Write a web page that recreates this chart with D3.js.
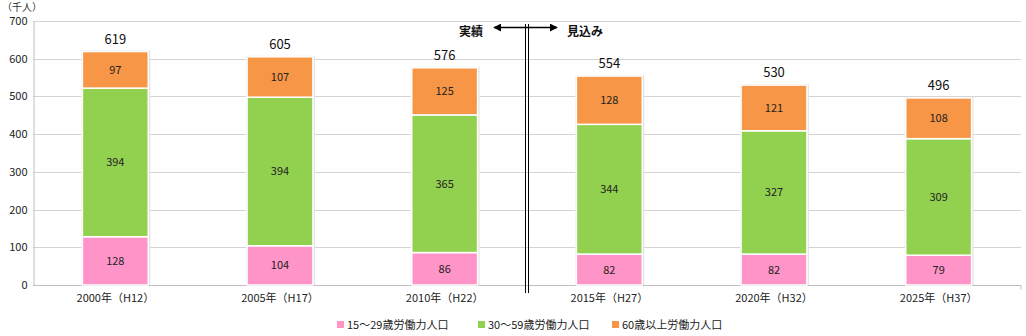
<!DOCTYPE html>
<html><head><meta charset="utf-8">
<script src="https://cdn.jsdelivr.net/npm/d3@7"></script>
<style>
body{margin:0;background:#fff;}
text{font-family:"Noto Sans CJK JP","Noto Sans",sans-serif;}
</style></head>
<body><svg id="c" width="1026" height="336"></svg>
<script>
const categories = ["2000年（H12）","2005年（H17）","2010年（H22）","2015年（H27）","2020年（H32）","2025年（H37）"];
const young = [128,104,86,82,82,79];
const middle = [394,394,365,344,327,309];
const senior = [97,107,125,128,121,108];
const totals = [619,605,576,554,530,496];
const seriesNames = ["15～29歳労働力人口","30～59歳労働力人口","60歳以上労働力人口"];
const colors = ["#ff94c9","#92d050","#f79646"];
const yTicks = [0,100,200,300,400,500,600,700];

const svg = d3.select("#c");
const L=33,R=1021,T=21,B=285;
const x = d3.scaleBand().domain(categories).range([L,R]).paddingInner(0.6).paddingOuter(0.3);
const y = d3.scaleLinear().domain([0,700]).range([B,T]);

// grid
svg.append("g").selectAll("line").data(yTicks.filter(d=>d>0)).join("line")
  .attr("x1",L).attr("x2",R).attr("y1",d=>Math.round(y(d))+0.5).attr("y2",d=>Math.round(y(d))+0.5)
  .attr("stroke","#d4d4d4").attr("stroke-width",1);

// y axis
const ya = svg.append("g").attr("transform",`translate(${L+0.5},0)`)
  .call(d3.axisLeft(y).tickValues(yTicks).tickSize(0).tickPadding(6));
ya.select(".domain").attr("stroke","#bfbfbf");
ya.selectAll("text").attr("font-size",11).attr("fill","#222").attr("font-family","Roboto,'Noto Sans',sans-serif");

// x axis
const xa = svg.append("g").attr("transform",`translate(0,${B+0.5})`)
  .call(d3.axisBottom(x).tickSize(0).tickPadding(9));
xa.select(".domain").attr("stroke","#bfbfbf").attr("d",`M${L},0H${R}V4`);
xa.selectAll("text").attr("font-size",11).attr("fill","#222");

svg.append("text").attr("x",2).attr("y",11).attr("font-size",10).attr("fill","#333").text("（千人）");

// stacks
const data = categories.map((c,i)=>({cat:c,young:young[i],middle:middle[i],senior:senior[i]}));
const keys=["young","middle","senior"];
const stack = d3.stack().keys(keys)(data);
const bw = x.bandwidth();
// shadow
svg.append("g").selectAll("rect").data(data).join("rect")
  .attr("x",d=>x(d.cat)-1).attr("width",bw+3)
  .attr("y",(d,i)=>y(totals[i])-1).attr("height",(d,i)=>B-y(totals[i])+1)
  .attr("fill","#e4e4e4");
stack.forEach((s,k)=>{
  const g = svg.append("g");
  g.selectAll("rect").data(s).join("rect")
    .attr("x",d=>x(d.data.cat)).attr("width",bw)
    .attr("y",d=>y(d[1])).attr("height",d=>y(d[0])-y(d[1]))
    .attr("fill",colors[k]).attr("stroke","#fff").attr("stroke-width",1.5);
  g.selectAll("text").data(s).join("text")
    .attr("x",d=>x(d.data.cat)+bw/2).attr("y",d=>(y(d[0])+y(d[1]))/2+4)
    .attr("text-anchor","middle").attr("font-size",11).attr("fill","#222")
    .attr("font-family","'DejaVu Sans',sans-serif")
    .text(d=>d[1]-d[0]);
});
// totals
svg.append("g").selectAll("text").data(data).join("text")
  .attr("x",d=>x(d.cat)+bw/2).attr("y",(d,i)=>y(totals[i])-8)
  .attr("text-anchor","middle").attr("font-size",13).attr("fill","#111")
  .attr("font-family","Roboto,'Noto Sans',sans-serif")
  .text((d,i)=>totals[i]);

// divider
const dx = (x(categories[2])+bw + x(categories[3]))/2;
svg.append("line").attr("x1",dx-1.5).attr("x2",dx-1.5).attr("y1",24).attr("y2",293).attr("stroke","#000").attr("stroke-width",1);
svg.append("line").attr("x1",dx+1.5).attr("x2",dx+1.5).attr("y1",24).attr("y2",293).attr("stroke","#000").attr("stroke-width",1);
const defs = svg.append("defs");
defs.append("marker").attr("id","ah").attr("viewBox","0 0 10 10").attr("refX",9).attr("refY",5)
  .attr("markerWidth",8).attr("markerHeight",8).attr("markerUnits","userSpaceOnUse").attr("orient","auto-start-reverse")
  .append("path").attr("d","M0,0L10,5L0,10z").attr("fill","#000");
svg.append("line").attr("x1",dx-33).attr("x2",dx+30).attr("y1",27.5).attr("y2",27.5)
  .attr("stroke","#000").attr("stroke-width",1.5)
  .attr("marker-start","url(#ah)").attr("marker-end","url(#ah)");
svg.append("text").attr("x",dx-44).attr("y",36).attr("text-anchor","end").attr("font-size",12).attr("font-weight","bold").attr("fill","#111").text("実績");
svg.append("text").attr("x",dx+40).attr("y",36).attr("font-size",12).attr("font-weight","bold").attr("fill","#111").text("見込み");

// legend
const lx=[337,478,612];
const lg = svg.append("g").selectAll("g").data(seriesNames).join("g")
  .attr("transform",(d,i)=>`translate(${lx[i]},325)`);
lg.append("rect").attr("x",0).attr("y",-4).attr("width",7).attr("height",7).attr("fill",(d,i)=>colors[i]);
lg.append("text").attr("x",10).attr("y",4).attr("font-size",11).attr("fill","#222").text(d=>d);
</script></body></html>
